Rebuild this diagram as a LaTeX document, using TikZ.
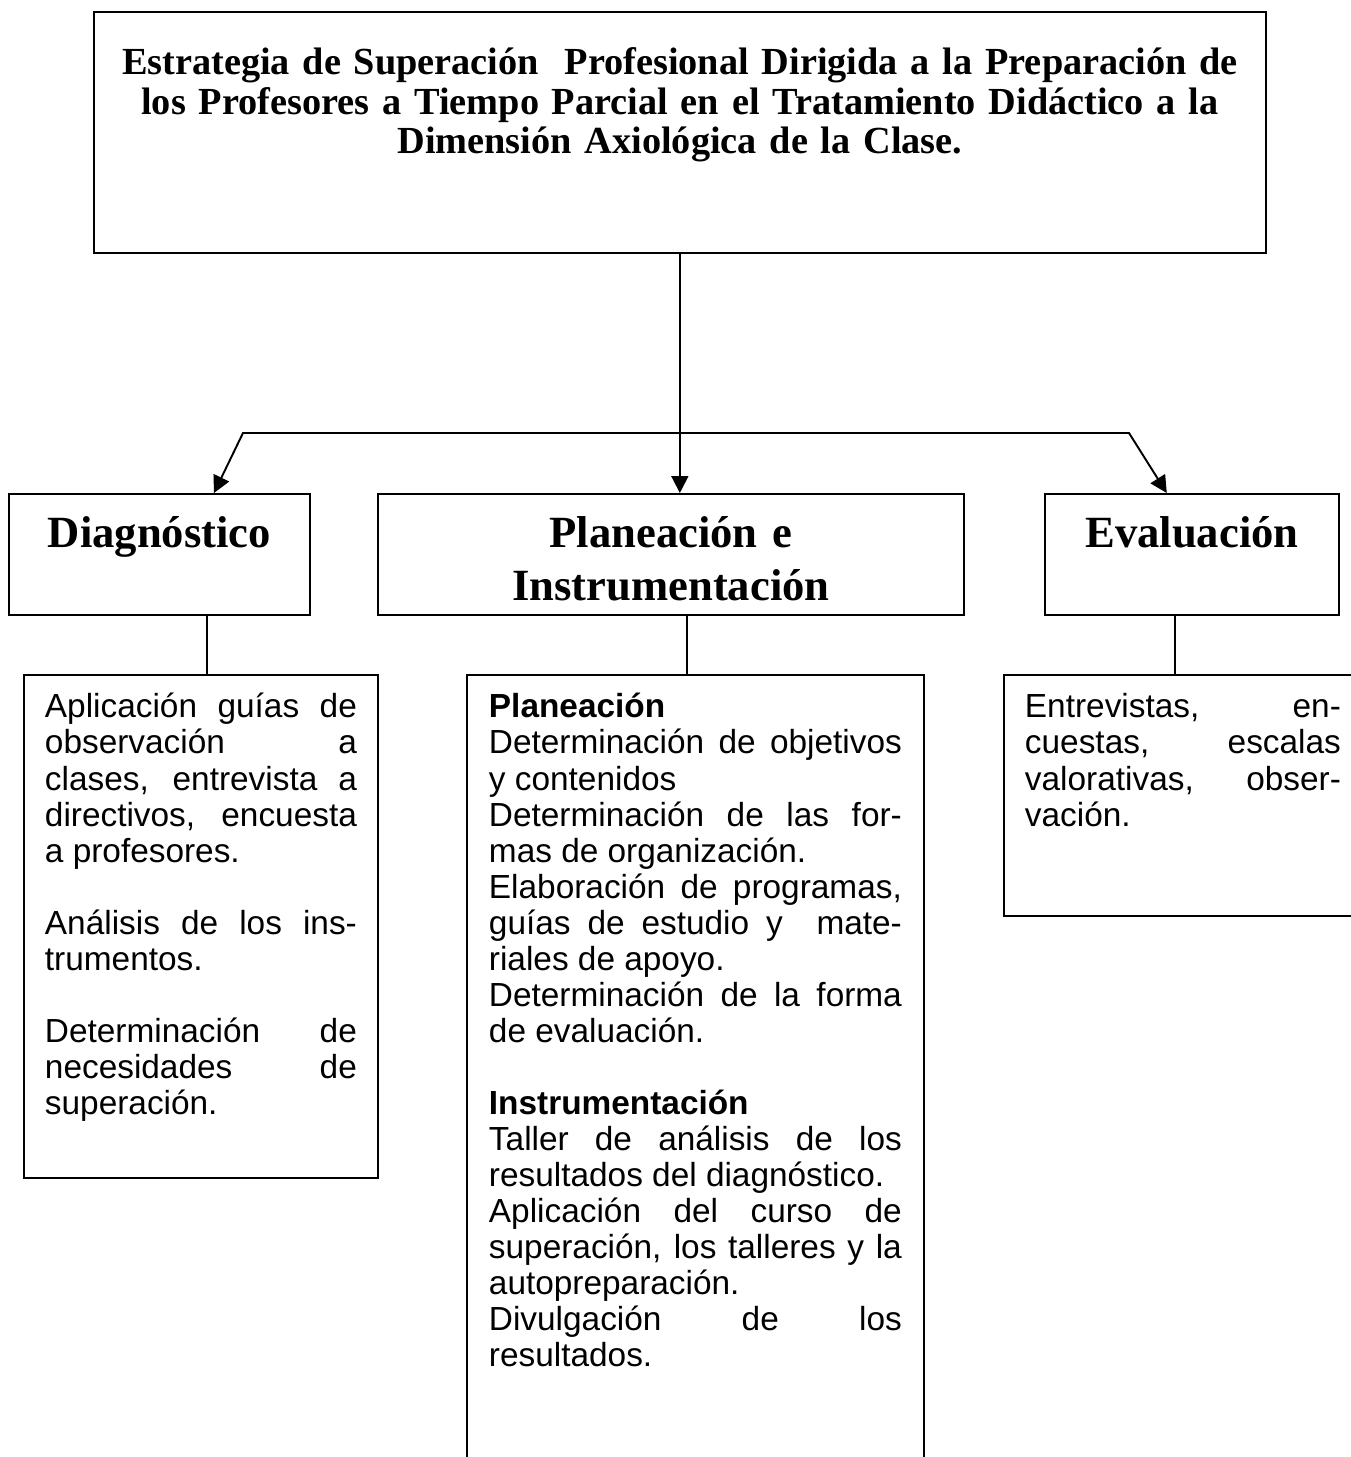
\documentclass[tikz,border=0pt]{standalone}
\usepackage{fontspec}
\setmainfont{Liberation Serif}
\setsansfont{Liberation Sans}
\usetikzlibrary{arrows.meta,calc}

\tikzset{
  caja/.style={draw,line width=1.1pt,anchor=north west,inner ysep=0pt},
  encabezado/.style={caja,inner xsep=0pt,align=center,
    font=\fontsize{25.4}{30}\selectfont\bfseries,
    text height=1.08cm,text depth=1.34cm},
  cuerpo/.style={caja,inner xsep=0.42cm,align=justify,
    font=\sffamily\fontsize{19}{20.5}\selectfont,text height=0.86cm},
  rama/.style={line width=1.1pt},
  flecha/.style={rama,-{Triangle[length=0.34cm,width=0.34cm]}},
}

\begin{document}
\begin{tikzpicture}[x=0.02cm,y=-0.02cm]
\useasboundingbox (0,0) rectangle (1351,1457);

% titulo
\node[caja,inner xsep=0pt,align=center,text width=23.44cm,
  font=\fontsize{21.8}{22.4}\selectfont\bfseries,
  text height=1.26cm,text depth=3.56cm] (estrategia) at (93,11)
  {Estrategia de Superación\ \ Profesional Dirigida a la Preparación de\\
   los Profesores a Tiempo Parcial en el Tratamiento Didáctico a la\\
   Dimensión Axiológica de la Clase.};

% etapas
\node[encabezado,text width=6.02cm] (diagnostico) at (8,493) {Diagnóstico};
\node[encabezado,text width=11.72cm] (planeacion) at (377,493) {Planeación e\\ Instrumentación};
\node[encabezado,text width=5.88cm] (evaluacion) at (1044,493) {Evaluación};

% contenidos
\node[cuerpo,text width=6.24cm,text depth=9.2cm] (diagtexto) at (23,674)
  {Aplicación guías de\linebreak observación a\linebreak
   clases, entrevista a\linebreak directivos, encuesta\linebreak
   a profesores.\par\vspace{20.5pt}
   Análisis de los ins-\linebreak trumentos.\par\vspace{20.5pt}
   Determinación de\linebreak necesidades de\linebreak superación.};
\node[cuerpo,inner xsep=0.44cm,text width=8.26cm,text depth=15.66cm] (plantexto) at (466,674)
  {\textbf{Planeación}\par
   Determinación de objetivos\linebreak y contenidos\par
   Determinación de las for-\linebreak mas de organización.\par
   Elaboración de programas,\linebreak guías de estudio y\ \ mate-\linebreak riales de apoyo.\par
   Determinación de la forma\linebreak de evaluación.\par\vspace{20.5pt}
   \textbf{Instrumentación}\par
   Taller de análisis de los\linebreak resultados del diagnóstico.\par
   Aplicación del curso de\linebreak superación, los talleres y la\linebreak autopreparación.\par
   Divulgación de los\linebreak resultados.};
\node[cuerpo,text width=6.32cm,text depth=3.96cm] (evaltexto) at (1003,674)
  {Entrevistas, en-\linebreak cuestas, escalas\linebreak valorativas, obser-\linebreak vación.};

% conectores
\draw[flecha] (estrategia.south) -- (estrategia.south |- planeacion.north);
\coordinate (ramaizq) at (243,433);
\coordinate (ramader) at (1129,433);
\draw[flecha] (ramaizq -| estrategia.south) -- (ramaizq)
  -- ($(diagnostico.north west)!0.68!(diagnostico.north east)$);
\draw[flecha] (ramaizq -| estrategia.south) -- (ramader)
  -- ($(evaluacion.north west)!0.415!(evaluacion.north east)$);

\coordinate (diagenlace) at ($(diagtexto.north west)!0.517!(diagtexto.north east)$);
\coordinate (planenlace) at ($(plantexto.north west)!0.481!(plantexto.north east)$);
\coordinate (evalenlace) at ($(evaltexto.north west)!0.478!(evaltexto.north east)$);
\draw[rama] (diagenlace) -- (diagenlace |- diagnostico.south);
\draw[rama] (planenlace) -- (planenlace |- planeacion.south);
\draw[rama] (evalenlace) -- (evalenlace |- evaluacion.south);
\end{tikzpicture}
\end{document}
